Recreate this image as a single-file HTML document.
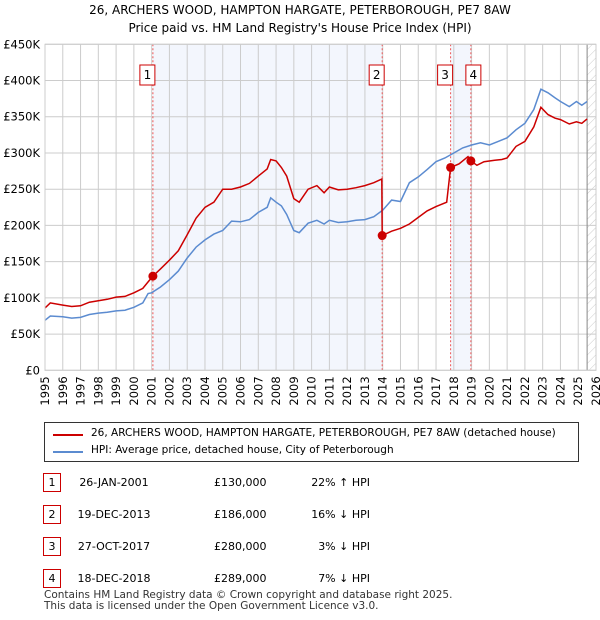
<!DOCTYPE html>
<html><head><meta charset="utf-8"><style>
body{margin:0;background:#fff;font-family:"DejaVu Sans","Liberation Sans",sans-serif;}
#wrap{position:relative;width:600px;height:620px;overflow:hidden}
.t{position:absolute;font-size:11px;color:#000;white-space:nowrap}
.box{position:absolute;border:1px solid #c00;width:16px;height:17px;text-align:center;line-height:17px;font-size:11px;background:#fff}
</style></head><body><div id="wrap">
<div class="t" style="left:0;width:600px;text-align:center;top:3px;font-size:12px">26, ARCHERS WOOD, HAMPTON HARGATE, PETERBOROUGH, PE7 8AW</div>
<div class="t" style="left:0;width:600px;text-align:center;top:21px;font-size:12px">Price paid vs. HM Land Registry's House Price Index (HPI)</div>
<svg id="svg" width="600" height="420" style="position:absolute;left:0;top:0">
<defs><pattern id="hatch" width="6" height="6" patternUnits="userSpaceOnUse" patternTransform="rotate(45)"><line x1="0" y1="0" x2="0" y2="6" stroke="#ccc" stroke-width="1"/></pattern></defs>
<g id="g"></g></svg>
<div style="position:absolute;left:44px;top:422px;width:533px;height:38px;border:1px solid #333">
<div style="position:absolute;left:8px;top:11px;width:30px;height:2px;background:#c00"></div>
<div class="t" style="left:46px;top:4px;font-size:10.5px">26, ARCHERS WOOD, HAMPTON HARGATE, PETERBOROUGH, PE7 8AW (detached house)</div>
<div style="position:absolute;left:8px;top:28px;width:30px;height:2px;background:#5b8bd0"></div>
<div class="t" style="left:46px;top:21px;font-size:10.5px">HPI: Average price, detached house, City of Peterborough</div>
</div>
<div id="tbl"></div>
<div class="t" style="left:44px;top:590px;font-size:10.5px;color:#333;line-height:11px">Contains HM Land Registry data © Crown copyright and database right 2025.<br>This data is licensed under the Open Government Licence v3.0.</div>
</div>
<script>
const hpiT=[1995,1995.3,1996,1996.5,1997,1997.5,1998,1998.5,1999,1999.5,2000,2000.5,2000.8,2001,2001.5,2002,2002.5,2003,2003.5,2004,2004.5,2005,2005.5,2006,2006.5,2007,2007.5,2007.7,2008,2008.3,2008.6,2009,2009.3,2009.8,2010.3,2010.7,2011,2011.5,2012,2012.5,2013,2013.5,2014,2014.5,2015,2015.5,2016,2016.5,2017,2017.5,2018,2018.5,2019,2019.5,2020,2020.5,2021,2021.5,2022,2022.5,2022.9,2023.3,2023.7,2024,2024.5,2024.9,2025.2,2025.5];
const hpiV=[69,75,74,72,73,77,79,80,82,83,87,93,106,107,115,125,137,155,170,180,188,193,206,205,208,218,225,238,232,227,215,193,190,203,207,202,207,204,205,207,208,212,221,235,233,259,267,277,288,293,300,307,311,314,311,316,321,332,341,360,388,383,376,371,364,371,366,371];
const redT=[1995,1995.3,1996,1996.5,1997,1997.5,1998,1998.5,1999,1999.5,2000,2000.5,2000.8,2001.07,2001.5,2002,2002.5,2003,2003.5,2004,2004.5,2005,2005.5,2006,2006.5,2007,2007.5,2007.7,2008,2008.3,2008.6,2009,2009.3,2009.8,2010.3,2010.7,2011,2011.5,2012,2012.5,2013,2013.5,2013.95,2013.97,2014.5,2015,2015.5,2016,2016.5,2017,2017.6,2017.82,2018.3,2018.8,2018.96,2019.3,2019.7,2020.3,2020.7,2021,2021.5,2022,2022.5,2022.9,2023.3,2023.7,2024,2024.5,2024.9,2025.2,2025.5];
const redV=[86,93,90,88,89,94,96,98,101,102,107,113,122,130,140,152,165,187,210,225,232,250,250,253,258,268,278,291,289,280,268,237,232,250,255,245,253,249,250,252,255,259,264,186,192,196,202,211,220,226,232,280,285,295,289,283,288,290,291,293,309,316,336,363,353,348,346,340,343,341,347];
const saleT=[2001.07,2013.97,2017.82,2018.96];
const saleV=[130,186,280,289];
const saleLbl=["1","2","3","4"];
const saleDate=["26-JAN-2001","19-DEC-2013","27-OCT-2017","18-DEC-2018"];
const salePrice=["£130,000","£186,000","£280,000","£289,000"];
const saleHpi=["22% ↑ HPI","16% ↓ HPI","3% ↓ HPI","7% ↓ HPI"];
const yTicks=[0,50,100,150,200,250,300,350,400,450];
const yLbl=["£0","£50K","£100K","£150K","£200K","£250K","£300K","£350K","£400K","£450K"];
const xTicks=[];for(let y=1995;y<=2026;y++)xTicks.push(y);

const X0=45,X1=596,Y0=370.3,Y1=44.3;
const xs=t=>X0+(t-1995)/31*(X1-X0);
const ys=v=>Y0-v/450*(Y0-Y1);
const NS="http://www.w3.org/2000/svg",g=document.getElementById('g');
const FF='DejaVu Sans, Liberation Sans, sans-serif';
function mk(tag,a){const e=document.createElementNS(NS,tag);for(const k in a)e.setAttribute(k,a[k]);g.appendChild(e);return e;}
let e;
e=mk('rect',{x:xs(saleT[0]),y:Y1,width:xs(saleT[1])-xs(saleT[0]),height:Y0-Y1,fill:'#f3f6fd'});

e=mk('rect',{x:xs(saleT[2]),y:Y1,width:xs(saleT[3])-xs(saleT[2]),height:Y0-Y1,fill:'#f3f6fd'});

e=mk('rect',{x:xs(2025.5),y:Y1,width:X1-xs(2025.5),height:Y0-Y1,fill:'url(#hatch)'});

xTicks.forEach(t=>{const x=xs(t);
 e=mk('line',{x1:x,x2:x,y1:Y1,y2:Y0,stroke:'#ccc'});
 e=mk('text',{x:0,y:0,transform:`translate(${x+4},${Y0+6}) rotate(-90)`,'text-anchor':'end','font-size':11.5,'font-family':FF});e.textContent=t;
 });
yTicks.forEach((v,i)=>{const y=ys(v);
 e=mk('line',{x1:X0,x2:X1,y1:y,y2:y,stroke:'#ccc'});
 e=mk('text',{x:X0-5,y:y+4,'text-anchor':'end','font-size':11.5,'font-family':FF});e.textContent=yLbl[i];
 });
e=mk('line',{x1:xs(2025.5),x2:xs(2025.5),y1:Y1,y2:Y0,stroke:'#888'});
saleT.forEach((t,i)=>{const x=xs(t);
 e=mk('line',{x1:x,x2:x,y1:Y1,y2:Y0,stroke:'#e55','stroke-dasharray':'2,2'});});
function path(T,V,c,n){e=mk('path',{d:T.map((t,i)=>(i?'L':'M')+xs(t).toFixed(1)+','+ys(V[i]).toFixed(1)).join(''),fill:'none',stroke:c,'stroke-width':1.5});
 }
path(hpiT,hpiV,'#5b8bd0','hpi-line');
path(redT,redV,'#cc0000','price-paid-line');
saleT.forEach((t,i)=>{e=mk('circle',{cx:xs(t),cy:ys(saleV[i]),r:4.5,fill:'#cc0000'});
 });
const boxOff=[-4,-4,-4,4];
saleT.forEach((t,i)=>{const x=xs(t)+boxOff[i]-9;
 e=mk('rect',{x:x,y:65,width:15,height:20,fill:'#fff',stroke:'#c00'});
 e=mk('text',{x:x+7.5,y:79,'text-anchor':'middle','font-size':12,'font-family':FF});e.textContent=saleLbl[i];
 });
e=mk('rect',{x:X0,y:Y1,width:X1-X0,height:Y0-Y1,fill:'none',stroke:'#ccc'});
const tbl=document.getElementById('tbl');
saleLbl.forEach((l,i)=>{const top=473+i*32;
 const row=document.createElement('div');row.style.cssText=`position:absolute;left:0;top:${top}px;width:600px;height:20px`;
 
 
 row.innerHTML=`<div class="box" style="left:43px;top:0">${l}</div><div class="t" style="left:64px;width:100px;text-align:center;top:3px">${saleDate[i]}</div><div class="t" style="left:214px;top:3px">${salePrice[i]}</div><div class="t" style="left:290px;width:80px;text-align:right;top:3px">${saleHpi[i]}</div>`;
 tbl.appendChild(row);});
</script></body></html>
